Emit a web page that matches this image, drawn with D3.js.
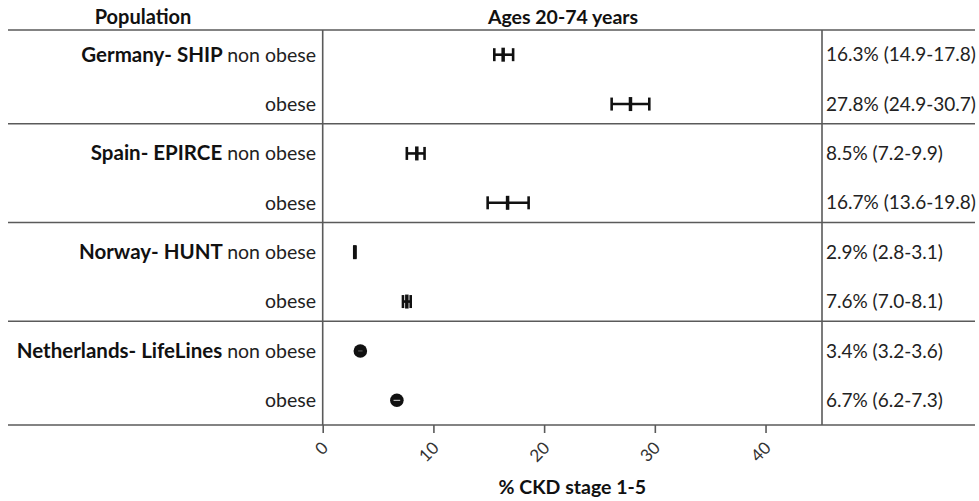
<!DOCTYPE html>
<html>
<head>
<meta charset="utf-8">
<script src="https://cdn.jsdelivr.net/npm/d3@7"></script>
<style>
  html, body { margin: 0; padding: 0; background: #fff; }
  svg { display: block; font-family: Lato, "Open Sans", sans-serif; }
</style>
</head>
<body>
<svg id="chart" width="979" height="501"></svg>
<script>
// ---- data ----
const populations = ["Germany- SHIP", "Spain- EPIRCE", "Norway- HUNT", "Netherlands- LifeLines"];
const subgroups = ["non obese", "obese"];
// point estimates (% CKD stage 1-5), one per population x subgroup, in row order
const estimates = [16.3, 27.8, 8.5, 16.7, 2.9, 7.6, 3.4, 6.7];
// error-bar extents as drawn in the picture
const barLow  = [15.5, 26.1, 7.6, 14.9, 2.85, 7.25, 3.2, 6.4];
const barHigh = [17.2, 29.5, 9.2, 18.6, 2.95, 7.95, 3.6, 7.0];
// marker style per population
const markerType = ["bar", "bar", "bar", "circle"];
// annotation texts shown on the right
const ciLabels = [
  "16.3% (14.9-17.8)", "27.8% (24.9-30.7)",
  "8.5% (7.2-9.9)", "16.7% (13.6-19.8)",
  "2.9% (2.8-3.1)", "7.6% (7.0-8.1)",
  "3.4% (3.2-3.6)", "6.7% (6.2-7.3)"
];
const xTicks = [0, 10, 20, 30, 40];
const xDomain = [0, 45.1];
const headerLeft = "Population";
const headerMid = "Ages 20-74 years";
const xTitle = "% CKD stage 1-5";

// ---- build rows ----
const rows = [];
populations.forEach((p, gi) => {
  subgroups.forEach((s, si) => {
    const i = gi * subgroups.length + si;
    rows.push({
      id: i, pop: p, sub: s, first: si === 0, group: gi,
      est: estimates[i], lo: barLow[i], hi: barHigh[i],
      marker: markerType[gi], label: ciLabels[i]
    });
  });
});

const svg = d3.select("#chart");
const lineColor = "#5a5a5a";
const x = d3.scaleLinear().domain(xDomain).range([322.7, 822]);
const y = d3.scaleBand().domain(rows.map(d => d.id)).range([30, 425]).padding(0);
const bw = y.bandwidth();
const cy = d => y(d.id) + bw / 2;
const leftEdge = 8, rightEdge = 975;

// headers
svg.append("text").attr("x", 143).attr("y", 24).attr("text-anchor", "middle")
  .attr("font-weight", "bold").attr("font-size", 20).attr("fill", "#111").text(headerLeft);
svg.append("text").attr("x", 563).attr("y", 24).attr("text-anchor", "middle")
  .attr("font-weight", "bold").attr("font-size", 19.5).attr("fill", "#111").text(headerMid);

// horizontal rules: top
svg.append("line").attr("x1", leftEdge).attr("x2", rightEdge).attr("y1", 30).attr("y2", 30)
  .attr("stroke", lineColor).attr("stroke-width", 1.6);
// group separators (after each group's last row, except last)
const lastRows = rows.filter(d => !d.first && d.group < populations.length - 1);
svg.selectAll("line.sep").data(lastRows).join("line").attr("class", "sep")
  .attr("x1", leftEdge).attr("x2", rightEdge)
  .attr("y1", d => cy(d) + bw * 0.40).attr("y2", d => cy(d) + bw * 0.40)
  .attr("stroke", lineColor).attr("stroke-width", 1.6);

// vertical rules
svg.append("line").attr("x1", x(0)).attr("x2", x(0)).attr("y1", 30).attr("y2", 425)
  .attr("stroke", lineColor).attr("stroke-width", 1.6);
svg.append("line").attr("x1", x(xDomain[1])).attr("x2", x(xDomain[1])).attr("y1", 30).attr("y2", 425)
  .attr("stroke", lineColor).attr("stroke-width", 1.6);

// x axis
const axis = svg.append("g").attr("transform", "translate(0,425)")
  .call(d3.axisBottom(x).tickValues(xTicks).tickSize(8).tickSizeOuter(0).tickFormat(d3.format("d")));
axis.select(".domain").remove();
axis.append("line").attr("x1", leftEdge).attr("x2", rightEdge).attr("y1", 0).attr("y2", 0)
  .attr("stroke", lineColor).attr("stroke-width", 1.6);
axis.selectAll(".tick line").attr("stroke", lineColor).attr("stroke-width", 1.6);
axis.selectAll(".tick text")
  .attr("font-family", "Lato, 'Open Sans', sans-serif").attr("font-size", 17).attr("fill", "#333")
  .attr("text-anchor", "end").attr("dy", null).attr("y", null)
  .attr("transform", "translate(6,24) rotate(-45)");

svg.append("text").attr("x", (x(0) + x(xDomain[1])) / 2).attr("y", 494).attr("text-anchor", "middle")
  .attr("font-weight", "bold").attr("font-size", 19.5).attr("fill", "#111").text(xTitle);

// row labels on the left
const lab = svg.selectAll("text.rowlab").data(rows).join("text").attr("class", "rowlab")
  .attr("x", 316).attr("y", d => cy(d)).attr("dy", "0.35em").attr("text-anchor", "end")
  .attr("font-size", 19.5).attr("fill", "#111");
lab.filter(d => d.first).append("tspan").attr("font-weight", "bold").attr("font-size", 20.5).text(d => d.pop + " ");
lab.append("tspan").attr("fill", "#222").text(d => d.sub);

// right labels
svg.selectAll("text.ci").data(rows).join("text").attr("class", "ci")
  .attr("x", 826).attr("y", d => cy(d)).attr("dy", "0.35em")
  .attr("font-size", 19).attr("fill", "#222").text(d => d.label);

// markers
const g = svg.append("g");
const bars = rows.filter(d => d.marker === "bar");
g.selectAll("line.whisk").data(bars).join("line").attr("class", "whisk")
  .attr("x1", d => x(d.lo)).attr("x2", d => x(d.hi)).attr("y1", cy).attr("y2", cy)
  .attr("stroke", "#111").attr("stroke-width", 2.6);
g.selectAll("line.caplo").data(bars).join("line").attr("class", "caplo")
  .attr("x1", d => x(d.lo)).attr("x2", d => x(d.lo)).attr("y1", d => cy(d) - 6.5).attr("y2", d => cy(d) + 6.5)
  .attr("stroke", "#111").attr("stroke-width", 2.6);
g.selectAll("line.caphi").data(bars).join("line").attr("class", "caphi")
  .attr("x1", d => x(d.hi)).attr("x2", d => x(d.hi)).attr("y1", d => cy(d) - 6.5).attr("y2", d => cy(d) + 6.5)
  .attr("stroke", "#111").attr("stroke-width", 2.6);
g.selectAll("line.mid").data(bars).join("line").attr("class", "mid")
  .attr("x1", d => x(d.est)).attr("x2", d => x(d.est)).attr("y1", d => cy(d) - 7).attr("y2", d => cy(d) + 7)
  .attr("stroke", "#111").attr("stroke-width", 3.5);

const circles = rows.filter(d => d.marker === "circle");
g.selectAll("circle.pt").data(circles).join("circle").attr("class", "pt")
  .attr("cx", d => x(d.est)).attr("cy", cy).attr("r", 6.8).attr("fill", "#111");
g.selectAll("line.cwhisk").data(circles).join("line").attr("class", "cwhisk")
  .attr("x1", d => x(d.lo)).attr("x2", d => x(d.hi)).attr("y1", cy).attr("y2", cy)
  .attr("stroke", "#fff").attr("stroke-width", 1).attr("stroke-opacity", d => d.first ? 0.35 : 0.85);
</script>
</body>
</html>
